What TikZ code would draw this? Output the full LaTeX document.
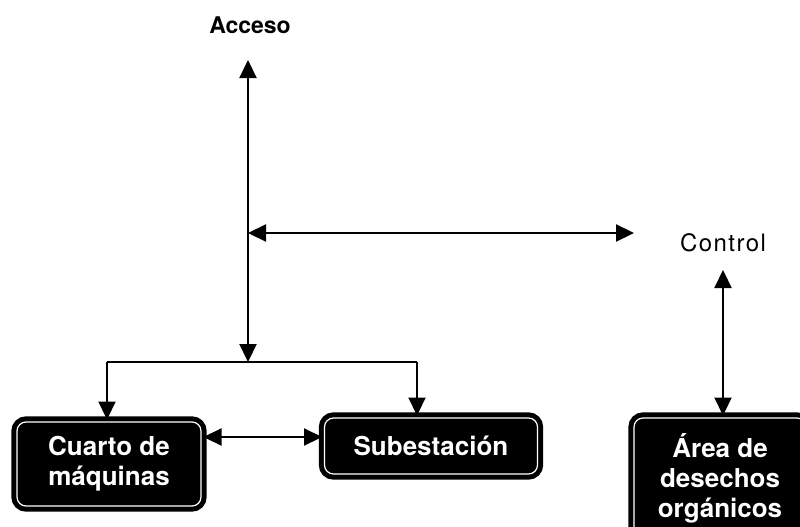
\documentclass[tikz,border=0pt]{standalone}
\usepackage{fontspec}
\setmainfont{TeX Gyre Heros}
\newfontfamily\spaced[LetterSpace=6]{TeX Gyre Heros}
\usetikzlibrary{arrows.meta}
\begin{document}
\begin{tikzpicture}[x=1pt,y=-1pt,
  link/.style={line width=2.2pt, -{Triangle[width=17pt,length=18pt]}},
  bilink/.style={line width=2.2pt, {Triangle[width=17pt,length=18pt]}-{Triangle[width=17pt,length=18pt]}},
  label/.style={font=\fontsize{23}{25}\selectfont\bfseries},
  area/.style={draw=black, line width=5pt, double=white, double distance=1.2pt,
    fill=black, rounded corners=9pt, text=white, align=center, inner sep=0pt,
    font=\fontsize{26}{30}\selectfont\bfseries}]
  \useasboundingbox (0,0) rectangle (800,527);
  \clip (0,0) rectangle (800,527);
  \fill[white] (0,0) rectangle (800,527);

  % labels
  \node[label] (acceso) at (250,25) {Acceso};
  \node[font=\fontsize{24}{26}\selectfont\spaced] (control) at (723,243) {Control};

  % rooms
  \node[area, minimum width=184pt, minimum height=84pt] (cuarto) at (109,464) {Cuarto de\\máquinas};
  \node[area, minimum width=213pt, minimum height=56pt] (sub) at (431,446) {Subestación};
  \node[area, minimum width=172pt, minimum height=120pt] (organ) at (720,478)
    {Área de\\desechos\\orgánicos};

  % junction points
  \coordinate (top) at (248,60);
  \coordinate (jn) at (248,362);
  \coordinate (left) at (107,362);
  \coordinate (right) at (417,362);
  \coordinate (hl) at (248,233);
  \coordinate (hr) at (634,233);
  \coordinate (ctl) at (723,270);

  % connectors
  \draw[bilink] (top) -- (jn);
  \draw[line width=2.2pt] (left) -- (right);
  \draw[link] (left) -- (left |- cuarto.north);
  \draw[link] (right) -- (right |- sub.north);
  \draw[bilink] (hl) -- (hr);
  \draw[bilink] (cuarto.east |- 0,437) -- (sub.west |- 0,437);
  \draw[bilink] (ctl) -- (ctl |- organ.north);
\end{tikzpicture}
\end{document}
